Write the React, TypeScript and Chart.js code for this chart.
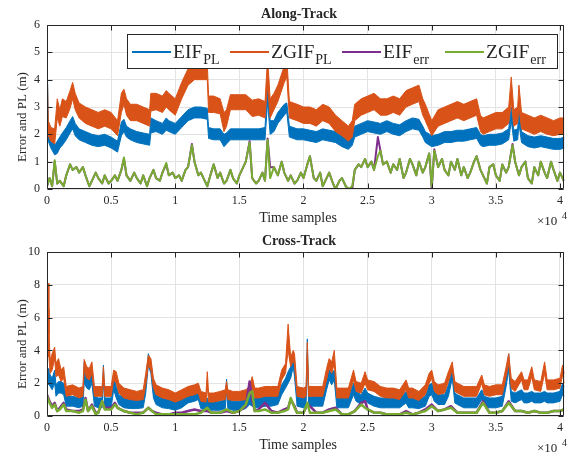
import React, { useEffect, useRef } from "react";
import { Chart, registerables } from "chart.js";
Chart.register(...registerables);

const FONT = "'Liberation Serif', 'Times New Roman', serif";
const INK = "#262626";
const GRID = "#e3e3e3";
const C_EIF_PL = "#0072BD";
const C_ZGIF_PL = "#D95319";
const C_EIF_ERR = "#7E2F8E";
const C_ZGIF_ERR = "#77AC30";

// ---------- Along-Track (top): PL bands read as lower / upper edge ----------
const alongPlSamples = [
  0, 100, 300, 600, 800, 1000, 1200, 1500, 1800, 2000, 2200, 2500, 3000, 3500, 4000, 4500,
  5000, 5500, 5800, 6000, 6200, 6500, 7000, 7500, 8000, 8100, 8500, 9000, 9300, 9500,
  10000, 10500, 11000, 11500, 12000, 12500, 12600, 13000, 13500, 13800, 14000, 14300,
  15000, 15500, 16000, 16500, 17000, 17200, 17400, 17700, 18000, 18500, 18700, 18900, 19500,
  20000, 20500, 21000, 21500, 22000, 22500, 23000, 23500, 23800, 24000, 24500,
  25000, 25500, 26000, 26500, 27000, 27500, 28000, 28500, 29000, 29300, 29500,
  30000, 30500, 31000, 31500, 32000, 32500, 33000, 33500, 33800, 34000, 34500,
  35000, 35500, 36000, 36200, 36400, 36700, 36800, 37000, 37500, 38000, 38500, 39000, 39500, 40000, 40350,
];
const alongEifPlLow = [
  2.0, 1.75, 1.5, 1.25, 1.3, 1.5, 1.6, 1.8, 2.05, 2.2, 1.95, 1.8, 1.7, 1.6, 1.55, 1.6,
  1.5, 1.35, 1.95, 2.1, 1.9, 1.8, 1.7, 1.65, 1.6, 2.05, 2.1, 2.0, 2.15, 2.1,
  2.0, 2.25, 2.5, 2.6, 2.6, 2.55, 1.85, 1.8, 1.8, 1.55, 1.65, 1.8,
  1.8, 1.8, 1.8, 1.8, 1.8, 3.2, 2.0, 2.1, 2.4, 2.7, 2.8, 1.9, 1.8,
  1.8, 1.75, 1.7, 1.8, 1.75, 1.7, 1.55, 1.45, 1.6, 1.9, 2.0,
  2.1, 2.05, 2.0, 2.1, 2.0, 1.95, 2.1, 2.2, 2.15, 1.9, 1.7,
  1.55, 1.6, 1.7, 1.7, 1.75, 1.75, 1.8, 1.85, 1.6, 1.55, 1.6,
  1.6, 1.65, 1.8, 2.5, 1.75, 1.8, 2.4, 1.7, 1.55, 1.5, 1.55, 1.5, 1.45, 1.45, 1.5,
];
const alongEifPlHigh = [
  5.25, 2.3, 1.95, 1.6, 1.75, 1.9, 2.05, 2.25, 2.5, 2.65, 2.4, 2.2, 2.1, 2.0, 1.95, 2.0,
  1.9, 1.75, 2.45, 2.55, 2.3, 2.2, 2.1, 2.05, 2.0, 2.6, 2.5, 2.4, 2.6, 2.5,
  2.4, 2.65, 2.9, 3.0, 3.0, 2.95, 2.25, 2.2, 2.2, 2.0, 2.05, 2.2,
  2.2, 2.2, 2.2, 2.2, 2.25, 3.85, 2.5, 2.5, 2.8, 3.1, 3.15, 2.3, 2.2,
  2.2, 2.15, 2.1, 2.2, 2.15, 2.1, 1.95, 1.9, 2.0, 2.3, 2.4,
  2.5, 2.45, 2.4, 2.5, 2.4, 2.35, 2.5, 2.6, 2.55, 2.3, 2.1,
  1.95, 2.0, 2.1, 2.1, 2.15, 2.15, 2.2, 2.25, 2.0, 1.95, 2.0,
  2.0, 2.05, 2.2, 3.0, 2.15, 2.2, 2.9, 2.1, 1.95, 1.9, 1.95, 1.9, 1.85, 1.85, 1.9,
];
const alongZgifPlLow = [
  2.0, 1.95, 1.75, 1.65, 2.6, 2.3, 2.65, 2.6, 2.95, 3.3, 2.9, 2.6, 2.4, 2.3, 2.2, 2.3,
  2.2, 1.95, 2.8, 3.1, 2.7, 2.5, 2.5, 2.4, 2.3, 2.85, 2.9, 2.8, 3.0, 2.9,
  2.7, 3.3, 3.8, 4.0, 4.0, 4.0, 2.8, 2.8, 2.75, 2.1, 2.3, 2.9,
  2.9, 2.9, 2.65, 2.7, 2.6, 3.8, 2.6, 2.9, 3.2, 3.9, 4.1, 2.6, 2.5,
  2.4, 2.4, 2.3, 2.5, 2.4, 2.1, 1.95, 1.75, 1.9, 2.5, 2.7,
  2.8, 2.9, 2.7, 2.7, 2.8, 2.7, 3.0, 3.1, 3.2, 2.7, 2.5,
  1.95, 2.3, 2.4, 2.5, 2.6, 2.5, 2.6, 2.7, 2.1, 2.0, 2.1,
  2.2, 2.2, 2.4, 3.2, 2.3, 2.4, 3.0, 2.2, 2.1, 2.0, 2.1, 2.0, 1.95, 2.0, 2.0,
];
const alongZgifPlHigh = [
  4.75, 2.5, 2.25, 2.2, 3.3, 2.9, 3.3, 3.2, 3.6, 3.9, 3.5, 3.15, 3.0, 2.9, 2.8, 2.9,
  2.8, 2.5, 3.5, 3.65, 3.3, 3.1, 3.1, 3.0, 2.9, 3.5, 3.5, 3.4, 3.6, 3.5,
  3.3, 3.9, 4.4, 4.6, 4.6, 4.6, 3.4, 3.4, 3.3, 2.8, 2.9, 3.45,
  3.45, 3.45, 3.25, 3.3, 3.2, 4.8, 3.3, 3.5, 3.8, 4.5, 4.8, 3.2, 3.1,
  3.0, 3.0, 2.9, 3.1, 3.0, 2.7, 2.5, 2.3, 2.5, 3.1, 3.3,
  3.4, 3.5, 3.3, 3.3, 3.4, 3.3, 3.6, 3.7, 3.8, 3.3, 3.1,
  2.5, 2.9, 3.0, 3.1, 3.2, 3.1, 3.2, 3.3, 2.7, 2.6, 2.7,
  2.8, 2.8, 3.0, 4.1, 2.9, 3.0, 3.8, 2.8, 2.7, 2.6, 2.7, 2.6, 2.5, 2.6, 2.6,
];
const alongErrSamples = [
  0, 200, 400, 600, 800, 1000, 1300, 1500, 1800, 2000, 2300, 2500, 2800, 3000, 3300, 3500, 3800, 4000, 4300, 4500, 4800,
  5000, 5300, 5500, 5800, 6000, 6200, 6500, 6800, 7000, 7300, 7500, 7800, 8000, 8300, 8500, 8800, 9000, 9300, 9500, 9800,
  10000, 10300, 10500, 10800, 11000, 11300, 11500, 11800, 12000, 12300, 12500, 12800, 13000, 13300, 13500, 13800, 14000, 14300, 14500, 14800,
  15000, 15300, 15500, 15800, 16000, 16300, 16500, 16800, 17000, 17200, 17400, 17700, 18000, 18300, 18500, 18800, 19000, 19300, 19500, 19800,
  20000, 20300, 20500, 20800, 21000, 21300, 21500, 21800, 22000, 22300, 22500, 22800, 23000, 23300, 23500, 23800, 24000, 24300, 24500, 24800,
  25000, 25300, 25500, 25800, 26000, 26200, 26500, 26800, 27000, 27300, 27500, 27800, 28000, 28300, 28500, 28800, 29000, 29300, 29500, 29800,
  30000, 30200, 30500, 30800, 31000, 31300, 31500, 31800, 32000, 32300, 32500, 32800, 33000, 33300, 33500, 33800, 34000, 34300, 34500, 34800,
  35000, 35300, 35500, 35800, 36000, 36300, 36500, 36800, 37000, 37300, 37500, 37800, 38000, 38300, 38500, 38800, 39000, 39300, 39500, 39800, 40000, 40300,
];
const alongEifErr = [
  0.1, 0.4, 0.1, 1.0, 0.2, 0.3, 0.1, 0.5, 0.9, 0.7, 0.8, 0.6, 0.8, 0.5, 0.1, 0.3, 0.6, 0.4, 0.2, 0.5, 0.2,
  0.3, 0.5, 0.3, 0.7, 1.1, 0.5, 0.3, 0.6, 0.4, 0.2, 0.5, 0.1, 0.4, 0.7, 0.4, 0.3, 0.6, 0.9, 0.5, 0.6,
  0.4, 0.5, 0.3, 0.7, 0.8, 1.65, 1.0, 0.5, 0.6, 0.3, 0.1, 0.6, 0.9, 0.4, 0.6, 0.2, 0.3, 0.7, 0.4, 0.2,
  0.5, 0.8, 1.0, 1.75, 0.4, 0.2, 0.3, 0.6, 0.3, 1.85, 0.8, 0.8, 0.5, 1.0, 0.6, 0.3, 0.5, 0.2, 0.3, 0.6,
  0.4, 0.9, 1.2, 0.4, 0.3, 0.6, 0.1, 0.4, 0.6, 0.2, 0.0, 0.3, 0.4, 0.1, 0.0, 0.0, 0.7, 0.9, 0.8, 1.1,
  0.8, 1.0, 0.7, 1.9, 1.4, 0.9, 1.0, 0.6, 0.9, 0.7, 1.1, 0.4, 0.6, 1.1, 0.9, 0.5, 1.0, 0.6, 0.8, 1.3,
  0.0, 1.45, 0.8, 1.1, 0.7, 0.5, 1.0, 0.7, 1.1, 0.5, 0.8, 0.4, 0.6, 1.0, 1.2, 0.7, 0.5, 0.2, 0.8, 0.9,
  0.5, 0.3, 0.9, 0.6, 0.8, 1.65, 1.0, 0.5, 0.8, 1.0, 0.4, 0.2, 0.8, 0.5, 1.0, 0.6, 0.4, 1.0, 0.7, 0.3, 0.6, 0.3,
];
const alongZgifErr = [
  0.1, 0.4, 0.1, 1.05, 0.2, 0.3, 0.1, 0.5, 0.9, 0.7, 0.8, 0.6, 0.8, 0.5, 0.1, 0.3, 0.6, 0.4, 0.2, 0.5, 0.2,
  0.3, 0.5, 0.3, 0.7, 1.15, 0.5, 0.3, 0.6, 0.4, 0.2, 0.5, 0.1, 0.4, 0.7, 0.4, 0.3, 0.6, 0.95, 0.5, 0.6,
  0.4, 0.5, 0.3, 0.7, 0.8, 1.6, 1.0, 0.5, 0.6, 0.3, 0.1, 0.6, 0.9, 0.4, 0.6, 0.2, 0.3, 0.7, 0.4, 0.2,
  0.5, 0.8, 1.0, 1.7, 0.4, 0.2, 0.3, 0.6, 0.3, 1.8, 0.4, 0.8, 0.5, 1.0, 0.6, 0.3, 0.5, 0.2, 0.3, 0.6,
  0.4, 0.9, 1.2, 0.4, 0.3, 0.6, 0.1, 0.4, 0.6, 0.2, 0.0, 0.3, 0.4, 0.1, 0.0, 0.1, 0.7, 0.9, 0.8, 1.1,
  0.8, 1.0, 0.7, 1.2, 1.4, 0.9, 1.0, 0.6, 0.9, 0.7, 1.1, 0.4, 0.6, 1.1, 0.9, 0.5, 1.0, 0.6, 0.8, 1.3,
  0.1, 1.4, 0.8, 1.1, 0.7, 0.5, 1.0, 0.7, 1.1, 0.5, 0.8, 0.4, 0.6, 1.0, 1.2, 0.7, 0.5, 0.2, 0.8, 0.9,
  0.5, 0.3, 0.9, 0.6, 0.8, 1.6, 1.0, 0.5, 0.8, 1.0, 0.4, 0.2, 0.8, 0.5, 1.0, 0.6, 0.4, 1.0, 0.7, 0.3, 0.6, 0.3,
];

// ---------- Cross-Track (bottom) ----------
const crossPlSamples = [
  0, 80, 150, 250, 400, 600, 700, 900, 1100, 1300, 1500, 2000, 2500, 2800, 2900, 3100, 3300, 3500, 3700, 4000, 4300, 4400, 4500,
  5000, 5200, 5400, 5600, 6000, 6500, 7000, 7500, 7700, 7900, 8100, 8300, 8500, 9000, 9500,
  10000, 10500, 11000, 11500, 11800, 12000, 12400, 12500, 12600, 13000, 13500, 13900, 14000, 14100, 14500,
  15000, 15500, 15800, 16000, 16200, 16500, 17000, 17500, 18000, 18300, 18600, 18800, 19000, 19200, 19300, 19500,
  20000, 20200, 20300, 20400, 21000, 21500, 21800, 22000, 22200, 22400, 22600, 23000, 23500, 23900, 24100, 24500,
  24800, 25000, 25500, 26000, 26500, 27000, 27500, 28000, 28200, 28500, 29000, 29500, 29800,
  30000, 30200, 30500, 31000, 31300, 31600, 31800, 32000, 32500, 33000, 33500, 33900, 34100, 34500,
  35000, 35500, 35800, 36000, 36200, 36500, 37000, 37200, 37500, 37800, 38000, 38500, 38800, 39000, 39500, 40000, 40200, 40350,
];
const crossEifPlLow = [
  2.2, 2.0, 1.9, 1.8, 1.6, 2.0, 1.2, 1.4, 1.4, 1.3, 0.6, 0.6, 0.5, 0.6, 2.0, 1.7, 1.6, 2.0, 0.6, 0.5, 0.5, 2.4, 0.5,
  0.5, 1.6, 1.1, 0.7, 0.5, 0.45, 0.45, 0.5, 1.4, 3.1, 2.6, 1.1, 0.7, 0.5, 0.45,
  0.35, 0.5, 0.8, 0.9, 1.0, 0.45, 0.35, 0.5, 0.35, 0.35, 0.35, 0.45, 1.6, 0.45, 0.35,
  0.35, 0.45, 0.7, 0.6, 0.5, 0.5, 0.6, 0.6, 0.7, 1.3, 1.7, 2.0, 2.3, 3.0, 2.4, 0.6,
  0.5, 0.6, 3.8, 0.6, 0.6, 0.6, 1.6, 2.2, 1.9, 2.2, 0.5, 0.5, 0.5, 1.3, 0.9, 0.7,
  1.0, 0.8, 0.6, 0.5, 0.5, 0.5, 0.5, 0.8, 0.5, 0.5, 0.45, 0.6, 1.2,
  1.3, 0.9, 0.7, 0.7, 1.2, 2.3, 0.8, 0.7, 0.5, 0.5, 0.5, 1.0, 0.6, 0.5,
  0.5, 0.6, 1.8, 2.8, 0.9, 0.8, 1.0, 0.8, 0.8, 0.9, 0.8, 0.8, 0.9, 0.8, 0.8, 0.9, 1.3, 1.2,
];
const crossEifPlHigh = [
  3.0, 2.9, 2.7, 2.5, 2.3, 2.8, 1.9, 2.1, 2.1, 2.0, 1.2, 1.2, 1.1, 1.2, 3.3, 2.4, 2.3, 2.8, 1.2, 1.1, 1.1, 3.1, 1.1,
  1.1, 2.4, 1.8, 1.3, 1.1, 1.0, 1.0, 1.1, 2.1, 3.8, 3.3, 1.8, 1.3, 1.1, 1.0,
  0.9, 1.1, 1.4, 1.5, 1.6, 1.0, 0.9, 1.1, 0.9, 0.9, 0.9, 1.0, 2.25, 1.0, 0.9,
  0.9, 1.0, 1.3, 1.2, 1.1, 1.1, 1.2, 1.2, 1.3, 1.9, 2.3, 2.7, 3.0, 3.8, 3.1, 1.2,
  1.1, 1.2, 4.7, 1.2, 1.2, 1.2, 2.3, 2.8, 2.6, 2.8, 1.1, 1.1, 1.1, 2.0, 1.5, 1.3,
  1.7, 1.4, 1.2, 1.1, 1.1, 1.1, 1.1, 1.5, 1.1, 1.1, 1.0, 1.2, 1.9,
  2.0, 1.5, 1.3, 1.3, 1.9, 2.9, 1.4, 1.3, 1.1, 1.1, 1.1, 1.6, 1.2, 1.1,
  1.1, 1.2, 2.5, 3.8, 1.5, 1.4, 1.6, 1.4, 1.4, 1.5, 1.4, 1.4, 1.5, 1.4, 1.4, 1.5, 2.0, 1.8,
];
const crossZgifPlLow = [
  2.2, 6.5, 3.6, 2.6, 2.8, 3.5, 2.4, 2.5, 2.1, 2.3, 1.2, 1.3, 1.1, 1.2, 2.8, 2.3, 2.2, 2.6, 1.2, 1.2, 1.2, 2.3, 1.2,
  1.2, 2.2, 2.0, 1.4, 1.1, 1.0, 0.95, 1.0, 1.9, 3.1, 2.8, 1.7, 1.3, 1.1, 1.0,
  0.85, 1.0, 1.2, 1.3, 1.4, 0.9, 0.85, 1.8, 0.85, 0.85, 0.95, 1.0, 1.5, 1.0, 0.95,
  0.95, 1.0, 1.2, 1.7, 1.1, 1.1, 1.2, 1.2, 1.2, 2.2, 2.6, 4.0, 3.0, 3.4, 3.1, 1.2,
  1.1, 1.2, 3.6, 1.2, 1.2, 1.2, 2.2, 2.9, 2.6, 3.2, 1.1, 1.1, 1.1, 2.2, 1.5, 1.4,
  2.0, 1.6, 1.5, 1.2, 1.1, 1.1, 1.0, 1.6, 1.1, 1.1, 0.95, 1.3, 2.0,
  2.3, 1.5, 1.3, 1.4, 2.1, 2.8, 1.5, 1.4, 1.2, 1.2, 1.2, 2.0, 1.3, 1.2,
  1.3, 1.3, 2.4, 3.2, 1.7, 1.5, 2.2, 1.6, 1.6, 2.4, 1.6, 1.5, 2.6, 1.6, 1.6, 1.7, 2.5, 2.0,
];
const crossZgifPlHigh = [
  2.9, 8.1, 5.0, 3.4, 3.8, 4.2, 3.2, 3.5, 2.8, 3.0, 1.8, 1.9, 1.7, 1.8, 3.45, 3.0, 2.9, 3.3, 1.8, 1.8, 1.8, 3.0, 1.8,
  1.8, 2.8, 2.7, 2.0, 1.7, 1.6, 1.5, 1.6, 2.6, 3.7, 3.5, 2.3, 1.9, 1.7, 1.6,
  1.4, 1.6, 1.8, 1.9, 2.0, 1.5, 1.4, 2.7, 1.4, 1.4, 1.5, 1.6, 2.1, 1.6, 1.5,
  1.5, 1.6, 1.8, 2.4, 1.7, 1.7, 1.8, 1.8, 1.8, 2.8, 3.2, 5.6, 3.6, 4.0, 3.8, 1.8,
  1.7, 1.8, 4.5, 1.8, 1.8, 1.8, 2.9, 3.5, 3.3, 4.0, 1.7, 1.7, 1.7, 2.8, 2.1, 2.0,
  2.7, 2.2, 2.1, 1.8, 1.7, 1.7, 1.6, 2.2, 1.7, 1.7, 1.5, 1.9, 2.6,
  2.8, 2.1, 1.9, 2.0, 2.7, 3.3, 2.1, 2.0, 1.8, 1.8, 1.8, 2.5, 1.9, 1.8,
  1.9, 1.9, 3.0, 3.8, 2.3, 2.1, 2.7, 2.2, 2.2, 3.0, 2.2, 2.1, 3.3, 2.2, 2.2, 2.3, 3.1, 2.6,
];
const crossErrSamples = [
  0, 200, 400, 600, 800, 1000, 1300, 1500, 2000, 2500, 2800, 3000, 3200, 3500, 3800, 4000, 4300, 4500,
  5000, 5300, 5500, 6000, 6500, 7000, 7500, 7900, 8200, 8500, 9000, 9500,
  10000, 10500, 11000, 11500, 12000, 12500, 12800, 13000, 13500, 14000, 14500,
  15000, 15500, 15800, 16000, 16200, 16500, 17000, 17500, 18000, 18500, 18800, 19000, 19300, 19500,
  20000, 20300, 20500, 21000, 21500, 22000, 22500, 23000, 23500, 24000, 24500, 24800,
  25000, 25500, 26000, 26500, 27000, 27500, 28000, 28500, 29000, 29500,
  30000, 30500, 31000, 31500, 32000, 32500, 33000, 33500, 34000, 34500,
  35000, 35500, 36000, 36500, 37000, 37500, 38000, 38500, 39000, 39500, 40000, 40300,
];
const crossEifErr = [
  1.3, 0.9, 0.6, 0.8, 0.3, 0.5, 0.8, 0.4, 0.3, 0.3, 0.4, 1.1, 0.3, 0.7, 0.2, 0.2, 0.9, 0.5,
  0.5, 0.8, 0.5, 0.3, 0.2, 0.2, 0.2, 0.5, 0.3, 0.2, 0.1, 0.1,
  0.2, 0.2, 0.3, 0.4, 0.3, 0.3, 0.2, 0.2, 0.2, 0.3, 0.2,
  0.3, 0.6, 2.1, 1.0, 0.3, 0.4, 0.8, 0.3, 0.2, 0.4, 0.5, 1.0, 0.6, 0.2,
  0.2, 0.7, 0.6, 0.2, 0.2, 0.4, 0.5, 0.1, 0.1, 0.3, 0.8, 0.9,
  0.4, 0.2, 0.2, 0.1, 0.1, 0.1, 0.3, 0.1, 0.2, 0.4,
  0.7, 0.3, 0.4, 0.6, 0.2, 0.2, 0.2, 0.2, 0.9, 0.2,
  0.2, 0.3, 0.9, 0.3, 0.3, 0.2, 0.3, 0.2, 0.2, 0.3, 0.3, 0.4,
];
const crossZgifErr = [
  1.2, 0.8, 0.5, 0.7, 0.3, 0.4, 0.7, 0.3, 0.3, 0.2, 0.3, 1.0, 0.3, 0.6, 0.1, 0.2, 0.9, 0.4,
  0.4, 0.7, 0.5, 0.3, 0.2, 0.1, 0.2, 0.5, 0.3, 0.1, 0.1, 0.1,
  0.1, 0.1, 0.1, 0.1, 0.2, 0.5, 0.2, 0.2, 0.2, 0.4, 0.2,
  0.3, 0.7, 1.4, 1.5, 0.3, 0.3, 0.4, 0.2, 0.2, 0.3, 0.4, 1.1, 0.5, 0.2,
  0.2, 0.8, 0.2, 0.2, 0.2, 0.3, 0.4, 0.1, 0.1, 0.3, 0.7, 0.5,
  0.4, 0.2, 0.2, 0.1, 0.1, 0.1, 0.2, 0.1, 0.2, 0.3,
  0.6, 0.3, 0.4, 0.5, 0.2, 0.2, 0.2, 0.2, 0.8, 0.2,
  0.2, 0.3, 0.8, 0.3, 0.3, 0.2, 0.3, 0.2, 0.2, 0.3, 0.3, 0.4,
];

const xTickValues = [0, 5000, 10000, 15000, 20000, 25000, 30000, 35000, 40000];
const xMax = 40350;
const legendEntries = [
  { main: "EIF", sub: "PL", color: C_EIF_PL },
  { main: "ZGIF", sub: "PL", color: C_ZGIF_PL },
  { main: "EIF", sub: "err", color: C_EIF_ERR },
  { main: "ZGIF", sub: "err", color: C_ZGIF_ERR },
];

function pts(xs: number[], ys: number[]) {
  return xs.map((x, i) => ({ x, y: ys[i] }));
}

function makeFramePlugin(title: string, showLegend: boolean) {
  return {
    id: "frame-" + title,
    afterDraw(chart: any) {
      const { ctx, chartArea: a, scales } = chart;
      ctx.save();
      ctx.strokeStyle = INK;
      ctx.lineWidth = 1;
      const L = Math.round(a.left) + 0.5;
      const T = Math.round(a.top) + 0.5;
      const R = Math.round(a.right) - 0.5;
      const B = Math.round(a.bottom) - 0.5;
      ctx.beginPath();
      ctx.rect(L, T, R - L, B - T);
      ctx.stroke();
      const tl = 5;
      ctx.beginPath();
      scales.x.ticks.forEach((t: any) => {
        const px = Math.round(scales.x.getPixelForValue(t.value)) + 0.5;
        ctx.moveTo(px, B); ctx.lineTo(px, B - tl);
        ctx.moveTo(px, T); ctx.lineTo(px, T + tl);
      });
      scales.y.ticks.forEach((t: any) => {
        const py = Math.round(scales.y.getPixelForValue(t.value)) + 0.5;
        ctx.moveTo(L, py); ctx.lineTo(L + tl, py);
        ctx.moveTo(R, py); ctx.lineTo(R - tl, py);
      });
      ctx.stroke();

      ctx.fillStyle = INK;
      ctx.font = `bold 14px ${FONT}`;
      ctx.textAlign = "center";
      ctx.textBaseline = "alphabetic";
      ctx.fillText(title, 299, a.top - 7);
      ctx.font = `14px ${FONT}`;
      ctx.textBaseline = "middle";
      ctx.fillText("Time samples", 298, a.bottom + 29.5);
      ctx.textAlign = "left";
      ctx.font = `13px ${FONT}`;
      ctx.fillText("\u00d710", 537, a.bottom + 33);
      ctx.font = `10px ${FONT}`;
      ctx.fillText("4", 562, a.bottom + 27);
      ctx.save();
      ctx.translate(23, (a.top + a.bottom) / 2 + 10);
      ctx.rotate(-Math.PI / 2);
      ctx.textAlign = "center";
      ctx.textBaseline = "middle";
      ctx.font = `13px ${FONT}`;
      ctx.fillText("Error and PL (m)", 0, 0);
      ctx.restore();

      if (showLegend) {
        const bx = 127.5, by = 34.5, bw = 430, bh = 34;
        ctx.fillStyle = "#ffffff";
        ctx.fillRect(bx, by, bw, bh);
        ctx.strokeStyle = INK;
        ctx.lineWidth = 1;
        ctx.strokeRect(bx, by, bw, bh);
        const starts = [132, 230, 342, 445];
        legendEntries.forEach((e, i) => {
          const x0 = starts[i];
          ctx.strokeStyle = e.color;
          ctx.lineWidth = 2;
          ctx.beginPath();
          ctx.moveTo(x0, 52);
          ctx.lineTo(x0 + 39, 52);
          ctx.stroke();
          ctx.fillStyle = INK;
          ctx.textAlign = "left";
          ctx.textBaseline = "alphabetic";
          ctx.font = `19.5px ${FONT}`;
          ctx.fillText(e.main, x0 + 41, 58);
          const w = ctx.measureText(e.main).width;
          ctx.font = `14px ${FONT}`;
          ctx.fillText(e.sub, x0 + 42 + w, 64);
        });
      }
      ctx.restore();
    },
  };
}

function band(xs: number[], lo: number[], hi: number[], color: string, order: number, label: string) {
  return [
    { label: label + " low", data: pts(xs, lo), borderColor: color, backgroundColor: color, borderWidth: 1, order, clip: 0, fill: false },
    { label: label, data: pts(xs, hi), borderColor: color, backgroundColor: color, borderWidth: 1, order, clip: 0, fill: "-1" },
  ];
}

function makeConfig(
  plX: number[], eifLo: number[], eifHi: number[], zgifLo: number[], zgifHi: number[],
  errX: number[], eifErr: number[], zgifErr: number[],
  yMax: number, yStep: number, padTop: number, xAxisH: number, errWidth: number,
  title: string, showLegend: boolean
): any {
  return {
    type: "line",
    data: {
      datasets: [
        ...band(plX, eifLo, eifHi, C_EIF_PL, 3, "EIF_PL"),
        ...band(plX, zgifLo, zgifHi, C_ZGIF_PL, 2, "ZGIF_PL"),
        { label: "EIF_err", data: pts(errX, eifErr), borderColor: C_EIF_ERR, borderWidth: errWidth, order: 1, fill: false },
        { label: "ZGIF_err", data: pts(errX, zgifErr), borderColor: C_ZGIF_ERR, borderWidth: errWidth, order: 0, fill: false },
      ],
    },
    options: {
      animation: false,
      responsive: false,
      maintainAspectRatio: false,
      devicePixelRatio: 1,
      layout: { padding: { top: padTop, right: 1, bottom: 0, left: 0 } },
      elements: {
        point: { radius: 0, hoverRadius: 0 },
        line: { tension: 0, borderJoinStyle: "round", borderCapStyle: "butt" },
      },
      plugins: {
        legend: { display: false }, tooltip: { enabled: false }, title: { display: false },
        filler: { propagate: false },
      },
      scales: {
        x: {
          type: "linear",
          min: 0,
          max: xMax,
          afterBuildTicks: (s: any) => { s.ticks = xTickValues.map((v) => ({ value: v })); },
          afterFit: (s: any) => { s.height = xAxisH; },
          ticks: {
            callback: (v: any) => String(Number(v) / 10000),
            font: { family: FONT, size: 12 },
            color: INK,
            padding: 5,
            maxRotation: 0,
            autoSkip: false,
          },
          grid: { color: GRID, drawTicks: false, lineWidth: 1 },
          border: { display: false },
        },
        y: {
          type: "linear",
          min: 0,
          max: yMax,
          ticks: {
            stepSize: yStep,
            font: { family: FONT, size: 12 },
            color: INK,
            padding: 7,
            callback: (v: any) => String(v),
          },
          afterFit: (s: any) => { s.width = 47; },
          grid: { color: GRID, drawTicks: false, lineWidth: 1 },
          border: { display: false },
        },
      },
    },
    plugins: [makeFramePlugin(title, showLegend)],
  };
}

export default function App() {
  const topRef = useRef<HTMLCanvasElement | null>(null);
  const botRef = useRef<HTMLCanvasElement | null>(null);

  useEffect(() => {
    const c1 = new Chart(
      topRef.current as HTMLCanvasElement,
      makeConfig(alongPlSamples, alongEifPlLow, alongEifPlHigh, alongZgifPlLow, alongZgifPlHigh,
        alongErrSamples, alongEifErr, alongZgifErr, 6, 1, 25, 39, 2, "Along-Track", true)
    );
    const c2 = new Chart(
      botRef.current as HTMLCanvasElement,
      makeConfig(crossPlSamples, crossEifPlLow, crossEifPlHigh, crossZgifPlLow, crossZgifPlHigh,
        crossErrSamples, crossEifErr, crossZgifErr, 10, 2, 24, 41, 2.5, "Cross-Track", false)
    );
    return () => { c1.destroy(); c2.destroy(); };
  }, []);

  return (
    <div style={{ position: "fixed", left: 0, top: 0, width: 568, height: 457, background: "#ffffff" }}>
      <canvas ref={topRef} width={568} height={228}
        style={{ position: "absolute", left: 0, top: 0, width: 568, height: 228 }} />
      <canvas ref={botRef} width={568} height={229}
        style={{ position: "absolute", left: 0, top: 228, width: 568, height: 229 }} />
    </div>
  );
}
